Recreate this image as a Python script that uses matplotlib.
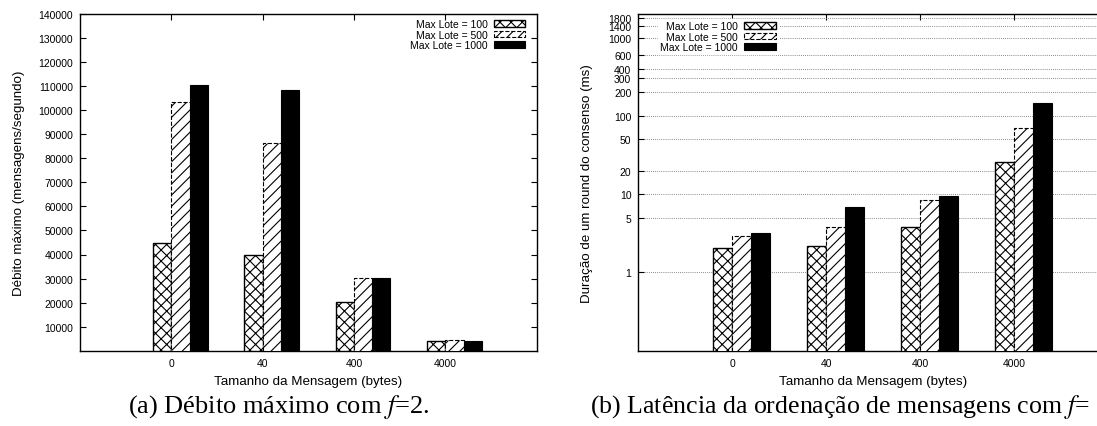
import matplotlib
matplotlib.use("Agg")
import matplotlib.pyplot as plt
import numpy as np
from matplotlib.ticker import FixedLocator, FixedFormatter, NullLocator

plt.rcParams['font.family'] = ['Liberation Sans', 'DejaVu Sans']
plt.rcParams['mathtext.fontset'] = 'stix'
plt.rcParams['hatch.linewidth'] = 0.8

# ---------------- data ----------------
categories = ['0', '40', '400', '4000']
series_labels = ['Max Lote = 100', 'Max Lote = 500', 'Max Lote = 1000']

throughput_100 = [44700, 39700, 20200, 4000]
throughput_500 = [103400, 86400, 30100, 4450]
throughput_1000 = [110300, 108500, 30100, 4100]

latency_100 = [2.03, 2.19, 3.83, 25.4]
latency_500 = [2.94, 3.76, 8.38, 69]
latency_1000 = [3.15, 6.76, 9.35, 145]

latency_ticks = [1, 5, 10, 20, 50, 100, 200, 300, 400, 600, 1000, 1400, 1800]
throughput_ticks = list(range(10000, 140001, 10000))

# ---------------- figure ----------------
W, H = 1097, 427
fig = plt.figure(figsize=(W / 100, H / 100), dpi=100)

def px_axes(l, r, t, b):
    return fig.add_axes([l / W, (H - b) / H, (r - l) / W, (b - t) / H])

axA = px_axes(80, 536.6, 15, 351.7)
axB = px_axes(638.3, 1108, 15, 351.7)

styles = [
    dict(facecolor='white', edgecolor='black', hatch='xxx', linewidth=1.0, linestyle='-'),
    dict(facecolor='white', edgecolor='black', hatch='///', linewidth=0.8, linestyle='--'),
    dict(facecolor='black', edgecolor='black', linewidth=0.8, linestyle='-'),
]
offsets = [-0.1, 0.1, 0.3]
width = 0.2
x = np.arange(len(categories))

def draw(ax, series):
    for vals, st, off, lab in zip(series, styles, offsets, series_labels):
        ax.bar(x + off, vals, width, label=lab, zorder=3, **st)
    ax.set_xlim(-1, 4)
    ax.set_xticks(x)
    ax.set_xticklabels(categories)
    ax.tick_params(axis='both', which='both', direction='in', top=True, right=True,
                   length=4, width=0.8, labelsize=7.5)
    ax.tick_params(axis='x', pad=5)
    ax.tick_params(axis='y', pad=5)
    for s in ax.spines.values():
        s.set_linewidth(1.0)
    ax.set_xlabel('Tamanho da Mensagem (bytes)', fontsize=9.6)
    ax.xaxis.set_label_coords(0.5, -0.073)

draw(axA, [throughput_100, throughput_500, throughput_1000])
axA.set_ylim(0, 140000)
axA.yaxis.set_major_locator(FixedLocator(throughput_ticks))
axA.yaxis.set_major_formatter(FixedFormatter([str(t) for t in throughput_ticks]))
axA.set_ylabel('Débito máximo (mensagens/segundo)', fontsize=9.6)
axA.yaxis.set_label_coords((25 - 80) / 456.6, 0.5)
axA.legend(loc='upper right', bbox_to_anchor=((525 - 80) / 456.6, (351.7 - 20) / 336.7),
           markerfirst=False, frameon=False, fontsize=7.5, borderaxespad=0, borderpad=0,
           labelspacing=0.06, handletextpad=0.6, handlelength=3.0, handleheight=0.6)

draw(axB, [latency_100, latency_500, latency_1000])
axB.set_yscale('log')
axB.set_ylim(0.1, 2000)
axB.yaxis.set_major_locator(FixedLocator(latency_ticks))
axB.yaxis.set_major_formatter(FixedFormatter([str(t) for t in latency_ticks]))
axB.yaxis.set_minor_locator(NullLocator())
axB.grid(axis='y', which='major', color='#666666', linestyle=(0, (1, 1.5)), linewidth=0.6, zorder=0)
axB.set_axisbelow(True)
axB.set_ylabel('Duração de um round do consenso (ms)', fontsize=9.6)
axB.yaxis.set_label_coords((593 - 638.3) / 469.7, 0.5)
axB.legend(loc='upper right', bbox_to_anchor=((777.7 - 638.3) / 469.7, (351.7 - 20) / 336.7),
           markerfirst=False, frameon=True, fontsize=7.5, borderaxespad=0, borderpad=0.2,
           labelspacing=0.06, handletextpad=0.6, handlelength=3.0, handleheight=0.6,
           fancybox=False, edgecolor='white', facecolor='white', framealpha=1)

# captions (the right one is cut at the image edge in the reference after "f=")
fig.text(128 / W, 1 - 413 / H, '(a) Débito máximo com $f$=2.', family='Liberation Serif',
         fontsize=19, ha='left', va='baseline')
fig.text(590 / W, 1 - 413 / H, '(b) Latência da ordenação de mensagens com $f$=',
         family='Liberation Serif', fontsize=18.6, ha='left', va='baseline')

fig.savefig('out.png', dpi=100)
